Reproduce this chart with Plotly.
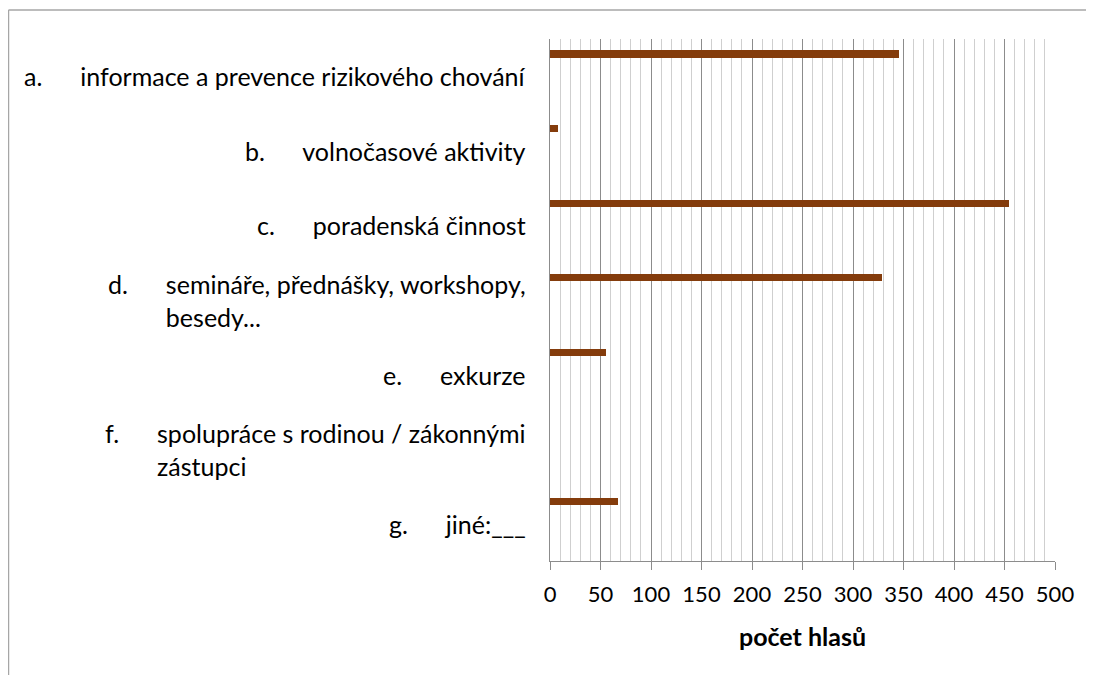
import plotly.graph_objects as go

letters = ["a.", "b.", "c.", "d.", "e.", "f.", "g."]
label_lines = [
    ["informace a prevence rizikového chování"],
    ["volnočasové aktivity"],
    ["poradenská činnost"],
    ["semináře, přednášky, workshopy,", "besedy..."],
    ["exkurze"],
    ["spolupráce s rodinou / zákonnými", "zástupci"],
    ["jiné:___"],
]
categories = [l + " " + " ".join(t) for l, t in zip(letters, label_lines)]
values = [346, 8, 454, 329, 55, 0, 67]
x_ticks = [0, 50, 100, 150, 200, 250, 300, 350, 400, 450, 500]
x_title = "počet hlasů"

FONT = "Lato"
LABEL_SIZE = 25
TICK_SIZE = 22
TITLE_SIZE = 25
BAR_COLOR = "#843c0c"
MAJOR = "#8c8c8c"
MINOR = "#cfcfcf"
GAP = "\u2003\u00a0\u00a0\u00a0"
HIDE = '<span style="color:rgba(0,0,0,0)">{}</span>'

fig = go.Figure()
fig.add_trace(go.Bar(
    x=values, y=categories, orientation="h",
    marker=dict(color=BAR_COLOR, line=dict(width=0)),
    width=0.098, offset=-0.347,
    hoverinfo="x+y",
))

annotations = []
for cat, letter, lines in zip(categories, letters, label_lines):
    first = letter + GAP + lines[0]
    rest = [HIDE.format(letter + GAP) + ln for ln in lines[1:]]
    annotations.append(dict(
        text="<br>".join([first] + rest),
        xref="paper", x=0, xshift=-22, xanchor="right",
        yref="y", y=cat, yanchor="middle",
        align="left", showarrow=False,
        font=dict(family=FONT, size=LABEL_SIZE, color="#000000"),
    ))

fig.update_layout(
    width=1086, height=667,
    margin=dict(l=542, r=39, t=31, b=114),
    paper_bgcolor="white", plot_bgcolor="white",
    showlegend=False,
    font=dict(family=FONT, size=TICK_SIZE, color="#000000"),
    annotations=annotations,
    bargap=0,
    shapes=[
        dict(type="line", xref="paper", yref="paper", x0=-1.0723, x1=1.1, y0=1.0556, y1=1.0556,
             line=dict(color="#a6a6a6", width=1.5)),
        dict(type="line", xref="paper", yref="paper", x0=-1.0723, x1=-1.0723, y0=1.0556, y1=-0.25,
             line=dict(color="#a6a6a6", width=1.5)),
    ],
)
fig.update_xaxes(
    range=[0, 500], tickvals=x_ticks, ticktext=[str(v) for v in x_ticks],
    ticks="outside", ticklen=8, tickcolor=MAJOR, tickwidth=1,
    showline=True, linecolor=MAJOR, linewidth=1,
    showgrid=True, gridcolor=MAJOR, gridwidth=1,
    minor=dict(dtick=10, showgrid=True, gridcolor=MINOR, gridwidth=1, ticks=""),
    zeroline=False, ticklabelstandoff=6,
    title=dict(text="<b>" + x_title + "</b>", font=dict(family=FONT, size=TITLE_SIZE), standoff=22),
)
fig.update_yaxes(
    type="category", autorange="reversed", showticklabels=False,
    showline=True, linecolor=MAJOR, linewidth=1, showgrid=False, zeroline=False, ticks="",
)

fig.write_html("out.html")
